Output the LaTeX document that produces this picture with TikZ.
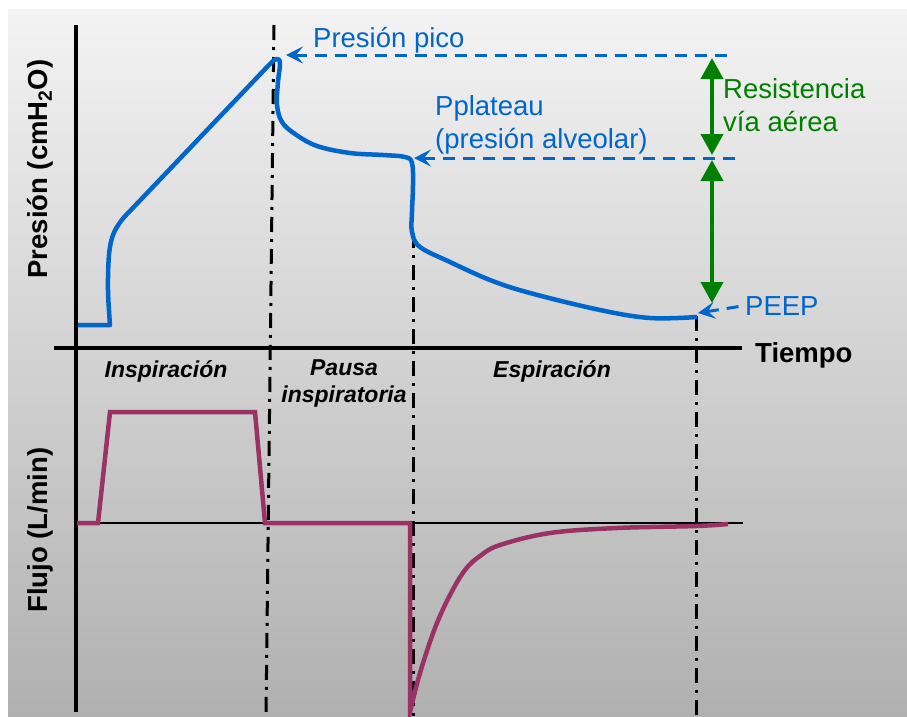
\documentclass[tikz,border=0pt]{standalone}
\usepackage{fontspec}
\setmainfont{Liberation Sans}
\usetikzlibrary{arrows.meta}
\definecolor{curveblue}{RGB}{0,102,204}
\definecolor{arrowgreen}{RGB}{0,128,0}
\definecolor{flowplum}{RGB}{153,51,102}
\definecolor{bgtop}{RGB}{243,243,243}
\definecolor{bgbottom}{RGB}{176,176,176}
\tikzset{
  lbl/.style={font=\fontsize{27.5}{33}\selectfont, inner sep=0},
  axlbl/.style={font=\fontsize{27.5}{33}\selectfont\bfseries, inner sep=0},
  phase/.style={font=\fontsize{23}{27}\selectfont\bfseries\itshape, align=center, inner sep=0},
  dashdot/.style={line width=3pt, dash pattern=on 15pt off 7pt on 3pt off 7pt},
  guide/.style={line width=3pt, color=curveblue, dash pattern=on 12pt off 8pt},
  gap/.style={line width=4pt, color=arrowgreen, {Triangle[length=21pt,width=22pt]}-{Triangle[length=21pt,width=22pt]}}
}

\begin{document}
\begin{tikzpicture}[x=1pt, y=-1pt]
			%%%%% START %%%%%
			\useasboundingbox (0,0) rectangle (907,716);
			\shade[top color=bgtop, bottom color=bgbottom] (8,9) rectangle (907,716);
			
			% phase limits
			\draw[dashdot] (274,25) -- (266,716);
			\draw[dashdot] (413,233) -- (413,716);
			\draw[dashdot] (696,316) -- (696,716);
			
			% axes
			\draw[line width=4pt] (76,25) -- (76,712);
			\draw[line width=4pt] (54,348) -- (742,348);
			\draw[line width=1.2pt] (77,523) -- (743,523);
			
			\node[axlbl, anchor=base west] (tiempo) at (755,362) {Tiempo};
			\node[axlbl, rotate=90, anchor=base] (presion) at (47,169) {Presión (cmH\textsubscript{2}O)};
			\node[axlbl, rotate=90, anchor=base] (flujo) at (47,530) {Flujo (L/min)};
			
			\node[phase, anchor=base] (insp) at (166,377) {Inspiración};
			\node[phase, anchor=base] (pausa) at (344,402) {Pausa\\inspiratoria};
			\node[phase, anchor=base] (esp) at (552,377) {Espiración};
			
			% pressure
			\draw[line width=4.5pt, color=curveblue, line join=round]
			  (78,325) -- (110,325)
			  -- plot[smooth, tension=0.6] coordinates {(110,325) (108,290) (109,255) (113,235) (121,221) (130,211)}
			  -- (268,66)
			  -- plot[smooth, tension=0.6] coordinates {(268,66) (276,59) (280,63) (278,82) (277,105) (282,122) (295,134) (317,146) (350,153) (383,155) (405,157) (412,163) (413,185) (412,212) (412,232) (420,247) (450,262) (490,280) (530,293) (600,310) (650,318) (697,317)};
			
			\coordinate (peak) at (286,55);
			\coordinate (plateau) at (414,158);
			\coordinate (endexp) at (698,313);
			
			\node[lbl, color=curveblue, anchor=base west] (pico) at (313,47) {Presión pico};
			\node[lbl, color=curveblue, anchor=north west, align=left] (pplat) at (435,95) {Pplateau\\(presión alveolar)};
			\node[lbl, color=curveblue, anchor=base west] (peep) at (745,315) {PEEP};
			
			\draw[guide, {Stealth[length=17pt,width=17pt,inset=7pt]}-] (peak) -- (735,55);
			\draw[guide, {Stealth[length=17pt,width=17pt,inset=7pt]}-] (plateau) -- (735,158);
			\draw[guide, {Stealth[length=17pt,width=17pt,inset=7pt]}-] (endexp) -- (peep.west);
			
			% resistance
			\draw[gap] (712,58) -- (712,155);
			\draw[gap] (712,160) -- (712,303);
			\node[lbl, color=arrowgreen, anchor=north west, align=left] (resist) at (723,78) {Resistencia\\vía aérea};
			
			% flow
			\draw[line width=4.5pt, color=flowplum]
			  (77,523) -- (98,523) -- (110,412) -- (255,412) -- (265,523) -- (410,523) -- (410,712)
			  -- plot[smooth, tension=0.6] coordinates {(410,712) (420,673) (435,628) (450,595) (465,570) (480,556) (500,545) (550,533) (617,528) (696,526) (728,524)};
			
			%%%%% END %%%%%
		\end{tikzpicture}
\end{document}
